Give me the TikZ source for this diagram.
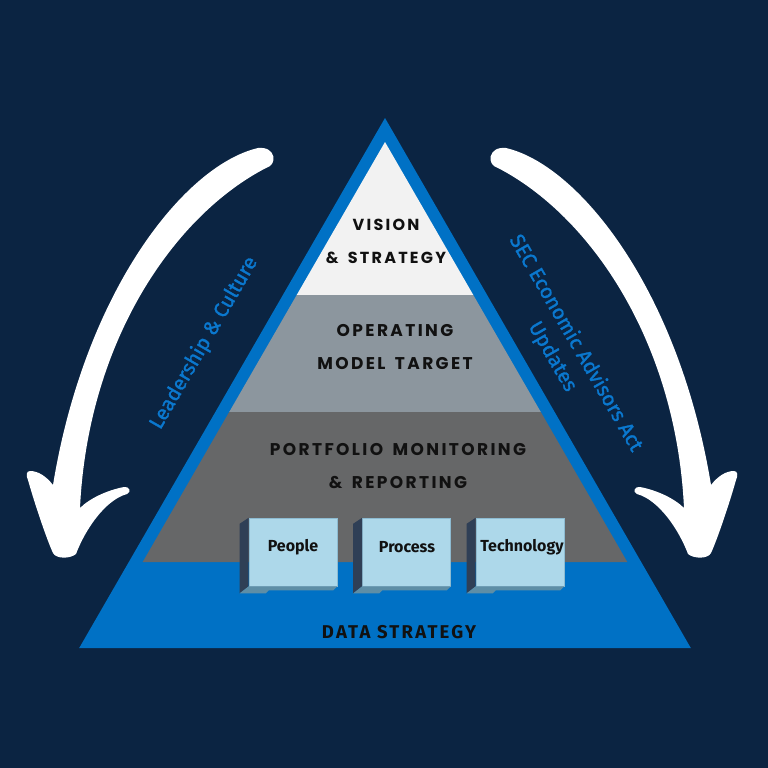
\documentclass[tikz,border=0pt]{standalone}
\usepackage{fontspec}
\setmainfont{Fira Sans}
\newfontfamily\layfont{Poppins}[LetterSpace=14]
\newfontfamily\labfont{Fira Sans}
\newfontfamily\sidefont{Fira Sans}[FakeBold=1.4]
\newfontfamily\basefont{Fira Sans}[LetterSpace=12]
\definecolor{bg}{HTML}{0B2442}
\definecolor{pyrblue}{HTML}{0071C5}
\definecolor{layw}{HTML}{F2F2F2}
\definecolor{layg}{HTML}{8C969E}
\definecolor{layd}{HTML}{666768}
\definecolor{boxface}{HTML}{ADD8EA}
\definecolor{boxedge}{HTML}{8DBBD1}
\definecolor{boxside}{HTML}{2F3F56}
\definecolor{boxbot}{HTML}{5E8EA6}
\definecolor{labblue}{HTML}{0A78CF}
\definecolor{ink}{HTML}{111111}
\newcommand{\wsp}{\hspace{3.5pt} }
\begin{document}
\begin{tikzpicture}[x=1pt,y=-1pt,
  laytext/.style={text=ink, align=center, inner sep=0pt, font=\layfont\bfseries\fontsize{17}{33}\selectfont},
  boxlabel/.style={text=ink, inner sep=0pt, font=\labfont\bfseries\fontsize{16}{19}\selectfont},
  frontface/.style={fill=boxface, draw=boxedge, line width=0.6pt, minimum width=88pt, minimum height=68pt, inner sep=0pt},
  sidelabel/.style={text=labblue, align=center, inner sep=0pt, font=\sidefont\fontsize{20.5}{27}\selectfont},
  bigarrow/.pic={
    \fill[white]
      (258,148) .. controls (185,165) and (85,290) .. (53,485)
      .. controls (46,476) and (38,471) .. (30,471)
      .. controls (26,471) and (26,476) .. (28,480)
      .. controls (35,505) and (47,540) .. (53,553)
      .. controls (56,559) and (70,559) .. (76,554)
      .. controls (85,530) and (105,500) .. (127,494)
      .. controls (132,492) and (129,486) .. (124,487)
      .. controls (108,490) and (90,498) .. (80,508)
      .. controls (88,340) and (175,215) .. (266,168)
      .. controls (278,165) and (276,146) .. (258,148) -- cycle;
  }
]
\useasboundingbox (0,0) rectangle (768,768);
\fill[bg] (0,0) rectangle (768,768);

% pyramid
\fill[pyrblue] (385,118) -- (79.2,648) -- (690.8,648) -- cycle;
\fill[layw] (385,142) -- (296.7,295) -- (473.3,295) -- cycle;
\fill[layg] (296.7,295) -- (229.2,412) -- (540.8,412) -- (473.3,295) -- cycle;
\fill[layd] (229.2,412) -- (142.7,562) -- (627.3,562) -- (540.8,412) -- cycle;

% layer texts
\node[laytext, font=\layfont\bfseries\fontsize{16}{33}\selectfont] (vision) at (386,241.5) {VISION\\\&\wsp STRATEGY};
\node[laytext] (operating) at (395,347) {OPERATING\\MODEL\wsp TARGET};
\node[laytext] (portfolio) at (398,466) {PORTFOLIO\wsp MONITORING\\\&\wsp REPORTING};
\node[text=ink, inner sep=0pt, font=\basefont\bfseries\fontsize{18.5}{20}\selectfont] (data) at (399,632) {DATA STRATEGY};

% boxes
\foreach \nm/\cx/\tx/\lab in {people/293/293/People, process/406.5/407/Process, technology/520/522/Technology}{
  \node[frontface] (\nm box) at (\cx,552) {};
  \fill[boxside] (\nm box.north west) -- ([xshift=-9pt,yshift=-6pt]\nm box.north west)
     -- ([xshift=-9pt,yshift=-7pt]\nm box.south west) -- (\nm box.south west) -- cycle;
  \fill[boxbot] (\nm box.south west) -- (\nm box.south east) -- ([xshift=-4pt,yshift=-4pt]\nm box.south east)
     -- ([xshift=20pt,yshift=-4pt]\nm box.south west) -- ([xshift=17pt,yshift=-7pt]\nm box.south west)
     -- ([xshift=-9pt,yshift=-7pt]\nm box.south west) -- cycle;
  \node[boxlabel] (\nm) at (\tx,547) {\lab};
}

% side labels
\node[sidelabel, rotate=60] (leadership) at (204,343) {Leadership \& Culture};
\node[sidelabel, rotate=-60] (sec) at (564,350) {SEC Economic Advisors Act\\Updates};

% arrows
\pic at (0,0) {bigarrow};
\pic[xscale=-1] at (764,0) {bigarrow};
\end{tikzpicture}
\end{document}
